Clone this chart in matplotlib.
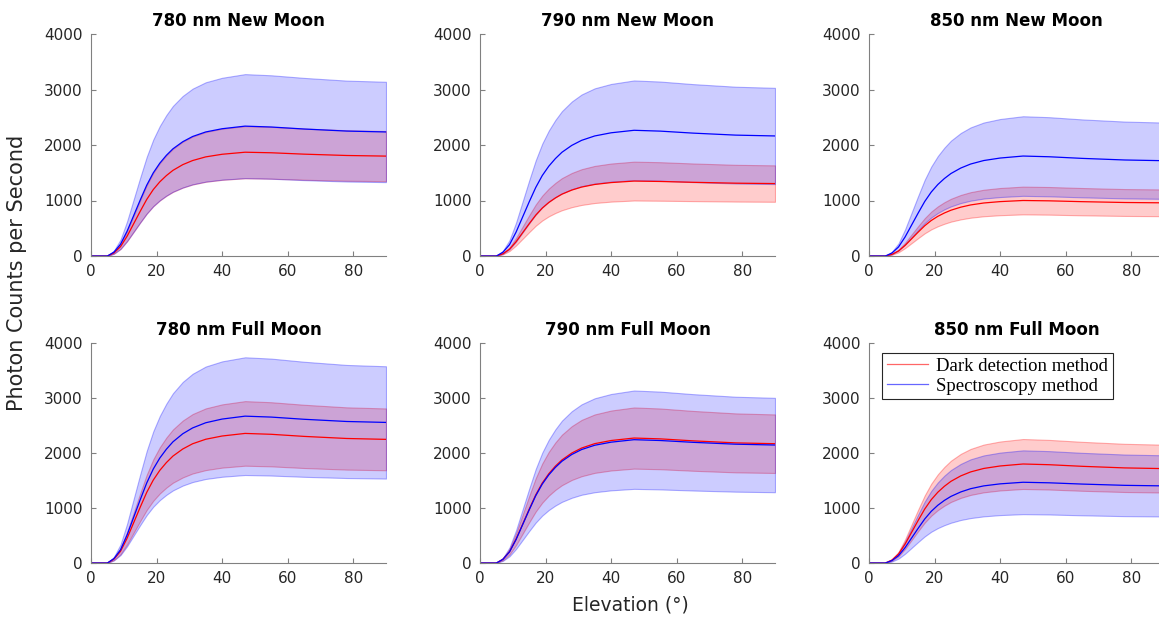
import matplotlib
matplotlib.use('Agg')
import matplotlib.pyplot as plt
import numpy as np

plt.rcParams['font.family'] = ['DejaVu Sans']

# elevation samples (degrees)
elevation = [0, 5, 7, 9, 11, 13, 15, 17, 19, 21, 23, 25, 28, 31, 35, 40, 47, 55, 65, 78, 90]

titles = ['780 nm New Moon', '790 nm New Moon', '850 nm New Moon',
          '780 nm Full Moon', '790 nm Full Moon', '850 nm Full Moon']

# dark detection method: mean and std per panel
dark_mean_780_new = [0, 0, 56, 168, 355, 580, 804, 1019, 1197, 1337, 1449, 1543, 1646, 1720, 1786, 1833, 1870, 1860, 1835, 1811, 1800]
dark_std_780_new = [0, 0, 14, 42, 89, 146, 202, 256, 301, 336, 364, 388, 414, 432, 449, 461, 470, 467, 461, 455, 452]
dark_mean_790_new = [0, 0, 41, 122, 257, 419, 581, 736, 864, 965, 1046, 1114, 1188, 1242, 1289, 1323, 1350, 1343, 1328, 1312, 1305]
dark_std_790_new = [0, 0, 11, 32, 67, 109, 151, 191, 224, 250, 271, 289, 308, 322, 334, 343, 350, 347, 339, 331, 328]
dark_mean_850_new = [0, 0, 30, 90, 190, 310, 430, 545, 640, 715, 775, 825, 880, 920, 955, 980, 1000, 994, 979, 964, 958]
dark_std_850_new = [0, 0, 8, 23, 48, 78, 108, 136, 160, 179, 194, 206, 220, 230, 239, 245, 250, 249, 246, 242, 241]
dark_mean_780_full = [0, 0, 71, 212, 448, 730, 1013, 1284, 1508, 1685, 1826, 1944, 2073, 2168, 2250, 2309, 2356, 2340, 2302, 2264, 2248]
dark_std_780_full = [0, 0, 18, 53, 112, 182, 252, 320, 376, 420, 455, 484, 517, 540, 561, 575, 587, 583, 575, 566, 562]
dark_mean_790_full = [0, 0, 68, 204, 432, 704, 977, 1238, 1454, 1624, 1761, 1874, 1999, 2090, 2170, 2227, 2272, 2257, 2221, 2184, 2169]
dark_std_790_full = [0, 0, 17, 50, 106, 172, 239, 303, 356, 398, 431, 459, 489, 512, 531, 545, 556, 552, 544, 536, 532]
dark_mean_850_full = [0, 0, 54, 162, 342, 558, 774, 981, 1152, 1287, 1395, 1485, 1584, 1656, 1719, 1764, 1800, 1787, 1758, 1729, 1716]
dark_std_850_full = [0, 0, 14, 41, 86, 141, 195, 247, 291, 325, 352, 375, 400, 418, 434, 445, 454, 451, 445, 438, 435]

# spectroscopy method: mean and std per panel
spec_mean_780_new = [0, 0, 70, 211, 445, 725, 1006, 1275, 1498, 1673, 1814, 1931, 2059, 2153, 2235, 2293, 2340, 2324, 2288, 2251, 2235]
spec_std_780_new = [0, 0, 28, 84, 178, 290, 403, 511, 600, 670, 726, 773, 825, 862, 895, 918, 937, 932, 921, 909, 904]
spec_mean_790_new = [0, 0, 68, 204, 430, 702, 974, 1234, 1450, 1619, 1755, 1869, 1993, 2084, 2163, 2220, 2265, 2250, 2214, 2178, 2163]
spec_std_790_new = [0, 0, 27, 81, 171, 278, 386, 489, 575, 642, 696, 741, 790, 826, 858, 880, 898, 893, 883, 872, 867]
spec_mean_850_new = [0, 0, 54, 162, 342, 558, 774, 982, 1153, 1288, 1396, 1486, 1585, 1657, 1720, 1765, 1801, 1788, 1759, 1730, 1717]
spec_std_850_new = [0, 0, 22, 65, 136, 222, 308, 391, 459, 513, 556, 592, 631, 660, 685, 703, 717, 713, 702, 692, 687]
spec_mean_780_full = [0, 0, 80, 240, 507, 828, 1148, 1455, 1709, 1909, 2069, 2203, 2350, 2456, 2550, 2617, 2670, 2653, 2613, 2573, 2556]
spec_std_780_full = [0, 0, 32, 96, 203, 332, 460, 583, 685, 765, 829, 883, 942, 984, 1022, 1049, 1070, 1063, 1046, 1028, 1021]
spec_mean_790_full = [0, 0, 67, 202, 426, 695, 964, 1222, 1435, 1603, 1738, 1850, 1973, 2063, 2141, 2197, 2242, 2227, 2194, 2160, 2145]
spec_std_790_full = [0, 0, 27, 80, 170, 277, 384, 487, 572, 639, 693, 738, 787, 822, 854, 876, 894, 889, 876, 863, 858]
spec_mean_850_full = [0, 0, 44, 132, 279, 455, 631, 800, 940, 1050, 1138, 1211, 1292, 1351, 1402, 1439, 1468, 1458, 1435, 1412, 1402]
spec_std_850_full = [0, 0, 17, 52, 110, 180, 249, 316, 371, 415, 450, 479, 510, 534, 554, 568, 580, 576, 568, 560, 556]

dark = [(dark_mean_780_new, dark_std_780_new), (dark_mean_790_new, dark_std_790_new),
        (dark_mean_850_new, dark_std_850_new), (dark_mean_780_full, dark_std_780_full),
        (dark_mean_790_full, dark_std_790_full), (dark_mean_850_full, dark_std_850_full)]
spec = [(spec_mean_780_new, spec_std_780_new), (spec_mean_790_new, spec_std_790_new),
        (spec_mean_850_new, spec_std_850_new), (spec_mean_780_full, spec_std_780_full),
        (spec_mean_790_full, spec_std_790_full), (spec_mean_850_full, spec_std_850_full)]

W, H = 1159, 622
fig = plt.figure(figsize=(W / 100, H / 100), dpi=100)

lefts = [91, 480, 869]
rows = [(34, 256), (343, 563)]
axcol = '#262626'

x = np.array(elevation)
for i in range(6):
    r, c = divmod(i, 3)
    top, bot = rows[r]
    ax = fig.add_axes([lefts[c] / W, 1 - bot / H, 295 / W, (bot - top) / H])
    handles = []
    for (m, s), col in zip([dark[i], spec[i]], [(1, 0, 0), (0, 0, 1)]):
        m = np.array(m, dtype=float)
        s = np.array(s, dtype=float)
        ax.fill_between(x, m - s, m + s, facecolor=col + (0.2,), edgecolor=col + (0.3,), linewidth=0.8)
        h, = ax.plot(x, m, color=col, linewidth=0.9)
        handles.append(h)
    ax.set_xlim(0, 90)
    ax.set_ylim(0, 4000)
    ax.set_xticks([0, 20, 40, 60, 80])
    ax.set_yticks([0, 1000, 2000, 3000, 4000])
    for sp in ['top', 'right']:
        ax.spines[sp].set_visible(False)
    for sp in ['left', 'bottom']:
        ax.spines[sp].set_color('#808080')
        ax.spines[sp].set_linewidth(0.8)
    ax.tick_params(direction='in', length=3.5, width=0.8, color='#808080', labelcolor=axcol,
                   labelsize=11, pad=6)
    ax.set_title(titles[i], fontsize=12, fontweight='bold', pad=6)
    if i == 5:
        leg = ax.legend(handles, ['Dark detection method', 'Spectroscopy method'],
                        loc='upper left', bbox_to_anchor=(0.044, 0.955), fancybox=False,
                        edgecolor=axcol, framealpha=1, borderaxespad=0,
                        prop={'family': 'Liberation Serif', 'size': 13.5},
                        handlelength=2.2, handletextpad=0.45, borderpad=0.25, labelspacing=0.15)
        leg.get_frame().set_linewidth(0.8)
        for lh in leg.get_lines():
            lh.set_alpha(0.6)

fig.text(17 / W, 1 - 273 / H, 'Photon Counts per Second', rotation=90, ha='center', va='center',
         fontsize=15, color=axcol)
fig.text(630 / W, 1 - 605 / H, 'Elevation (°)', ha='center', va='center', fontsize=13.5, color=axcol)

fig.savefig('out.png', dpi=100)
